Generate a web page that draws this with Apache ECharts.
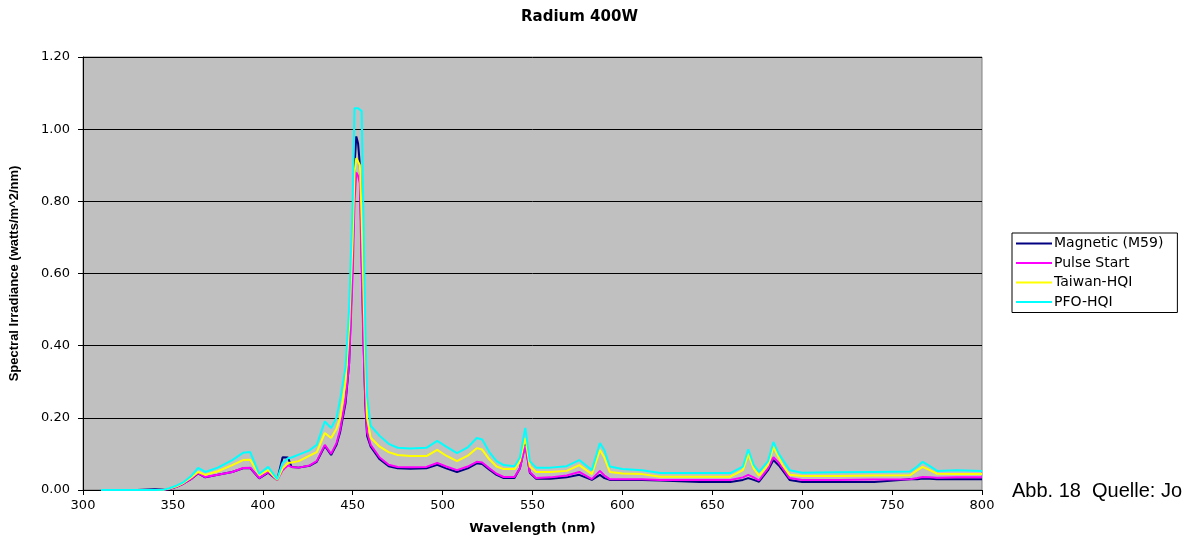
<!DOCTYPE html>
<html>
<head>
<meta charset="utf-8">
<script src="https://cdn.jsdelivr.net/npm/echarts@6/dist/echarts.min.js"></script>
<style>html,body{margin:0;padding:0;background:#fff;}#c{width:1190px;height:543px;}</style>
</head>
<body>
<div id="c"></div>
<script>
// Wavelength (nm)
const wavelength = [310,320,330,340,345,348,352,356,360,364,368,375,383,389,393,398,403,408,411,414,416,420,426,430,434.5,438,441,443,446,448,450,451,452,453,454,455,456,457,458,460,465,470,475,482,491,497,502,508,514,519,522,526,530,534,540,543,546,548.5,552,560,569,576,583,587.5,590,593,600,611,621,643,660,667,670,673,676,681,684,687,689,693,700,720,740,760,764,767,771,775,786,800];

const magnetic = [0,0,0,0.002,0.001,0.003,0.009,0.018,0.03,0.046,0.035,0.042,0.05,0.06,0.061,0.032,0.048,0.028,0.091,0.09,0.064,0.062,0.067,0.078,0.122,0.097,0.125,0.16,0.24,0.35,0.65,0.9,0.98,0.96,0.9,0.65,0.42,0.24,0.15,0.12,0.085,0.066,0.06,0.059,0.06,0.07,0.06,0.05,0.06,0.074,0.072,0.056,0.042,0.033,0.033,0.06,0.13,0.048,0.031,0.031,0.035,0.042,0.028,0.042,0.033,0.028,0.028,0.028,0.026,0.022,0.022,0.028,0.033,0.028,0.023,0.055,0.083,0.068,0.055,0.028,0.022,0.022,0.022,0.03,0.03,0.032,0.031,0.03,0.03,0.03];

const pulseStart = [0,0,0,0,0.001,0.003,0.009,0.018,0.03,0.047,0.036,0.042,0.05,0.061,0.062,0.033,0.05,0.028,0.055,0.068,0.064,0.062,0.068,0.08,0.125,0.1,0.13,0.166,0.25,0.35,0.6,0.8,0.88,0.87,0.85,0.6,0.4,0.25,0.16,0.125,0.09,0.07,0.064,0.063,0.064,0.075,0.065,0.055,0.065,0.078,0.076,0.06,0.045,0.036,0.036,0.06,0.122,0.05,0.033,0.035,0.04,0.05,0.03,0.053,0.04,0.03,0.03,0.03,0.028,0.028,0.028,0.035,0.042,0.035,0.027,0.06,0.091,0.075,0.061,0.033,0.028,0.028,0.029,0.03,0.033,0.036,0.035,0.034,0.035,0.035];

const taiwanHQI = [0,0,0,0,0.001,0.004,0.01,0.02,0.034,0.05,0.042,0.052,0.069,0.083,0.084,0.042,0.055,0.028,0.06,0.075,0.076,0.08,0.095,0.105,0.158,0.144,0.17,0.2,0.3,0.45,0.7,0.88,0.92,0.91,0.9,0.75,0.55,0.35,0.2,0.145,0.12,0.105,0.097,0.094,0.094,0.111,0.095,0.08,0.095,0.116,0.112,0.085,0.065,0.058,0.058,0.08,0.144,0.065,0.05,0.05,0.053,0.069,0.044,0.111,0.09,0.05,0.046,0.044,0.037,0.037,0.037,0.055,0.1,0.06,0.04,0.07,0.12,0.09,0.07,0.042,0.039,0.039,0.04,0.041,0.055,0.064,0.055,0.045,0.044,0.044];

const pfoHQI = [0,0,0,0,0.001,0.005,0.012,0.022,0.038,0.061,0.05,0.062,0.083,0.103,0.105,0.045,0.064,0.03,0.075,0.088,0.09,0.098,0.11,0.125,0.19,0.172,0.2,0.25,0.34,0.5,0.8,1.058,1.06,1.058,1.055,1.05,0.75,0.45,0.26,0.178,0.15,0.128,0.117,0.115,0.117,0.136,0.12,0.102,0.118,0.144,0.14,0.105,0.08,0.069,0.066,0.09,0.172,0.08,0.062,0.062,0.066,0.083,0.055,0.13,0.11,0.065,0.058,0.055,0.047,0.047,0.047,0.065,0.113,0.07,0.05,0.08,0.133,0.1,0.085,0.055,0.048,0.049,0.05,0.051,0.065,0.078,0.066,0.053,0.055,0.053];

const seriesNames = ['Magnetic (M59)','Pulse Start','Taiwan-HQI','PFO-HQI'];
const seriesColors = ['#000080','#FF00FF','#FFFF00','#00FFFF'];
const seriesValues = [magnetic, pulseStart, taiwanHQI, pfoHQI];

const chart = echarts.init(document.getElementById('c'));
const FONT = 'DejaVu Sans';
chart.setOption({
  animation: false,
  backgroundColor: '#ffffff',
  title: {
    text: 'Radium 400W',
    left: 516, top: 5,
    textStyle: {fontFamily: FONT, fontWeight: 'bold', fontSize: 15, color: '#000'}
  },
  legend: {
    orient: 'vertical',
    left: 1012, top: 233,
    backgroundColor: '#ffffff',
    borderColor: '#000000',
    borderWidth: 1,
    borderRadius: 0,
    padding: [3, 14, 3, 4],
    itemGap: 4.5,
    itemWidth: 36,
    itemHeight: 2,
    icon: 'rect',
    data: seriesNames,
    textStyle: {fontFamily: FONT, fontSize: 14, color: '#000', lineHeight: 15, padding: [0,0,0,-3]}
  },
  grid: {
    left: 83, top: 57, width: 899, height: 433,
    show: true, backgroundColor: '#C0C0C0', borderColor: '#808080', borderWidth: 1,
    containLabel: false
  },
  xAxis: {
    type: 'value', min: 300, max: 800, interval: 50,
    name: 'Wavelength (nm)', nameLocation: 'middle', nameGap: 32,
    nameTextStyle: {fontFamily: FONT, fontWeight: 'bold', fontSize: 13, color: '#000'},
    axisLine: {show: true, onZero: false, lineStyle: {color: '#000', width: 1}},
    axisTick: {show: true, inside: false, length: 5, lineStyle: {color: '#000'}},
    axisLabel: {fontFamily: FONT, fontSize: 13, color: '#000', margin: 9},
    splitLine: {show: false}
  },
  yAxis: {
    type: 'value', min: 0, max: 1.2, interval: 0.2,
    name: 'Spectral Irradiance (watts/m^2/nm)', nameLocation: 'middle', nameGap: 62, nameRotate: 90,
    nameTextStyle: {fontFamily: 'Liberation Sans', fontWeight: 'bold', fontSize: 13, color: '#000'},
    axisLine: {show: true, lineStyle: {color: '#000', width: 1}},
    axisTick: {show: true, inside: false, length: 5, lineStyle: {color: '#000'}},
    axisLabel: {fontFamily: FONT, fontSize: 13, color: '#000', margin: 13, formatter: v => v.toFixed(2)},
    splitLine: {show: true, lineStyle: {color: '#000', width: 1}}
  },
  graphic: [{
    type: 'text', left: 1012, top: 481,
    style: {text: 'Abb. 18  Quelle: Jo', fontFamily: 'Liberation Sans', fontSize: 20, fill: '#000'}
  }],
  series: seriesNames.map((name, i) => ({
    name: name,
    type: 'line',
    data: wavelength.map((w, j) => [w, seriesValues[i][j]]),
    showSymbol: false,
    symbol: 'none',
    smooth: false,
    z: 2 + i,
    lineStyle: {color: seriesColors[i], width: 2},
    itemStyle: {color: seriesColors[i]},
    emphasis: {disabled: true}
  }))
});
</script>
</body>
</html>
